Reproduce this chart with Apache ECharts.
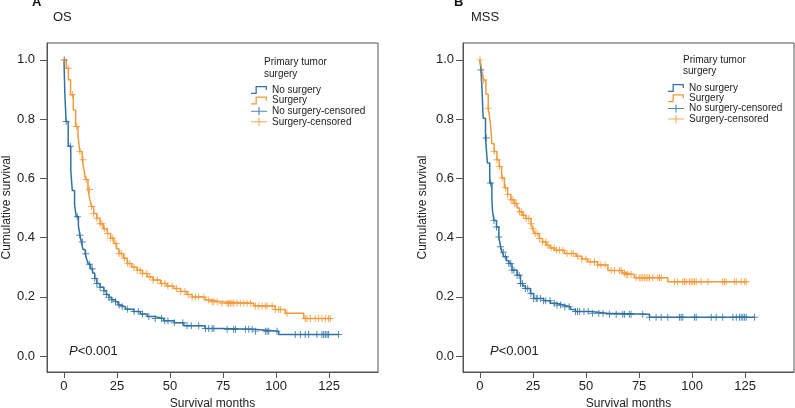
<!DOCTYPE html>
<html><head><meta charset="utf-8">
<script src="https://cdn.jsdelivr.net/npm/echarts@6/dist/echarts.min.js"></script>
<style>html,body{margin:0;padding:0;background:#fff}#c{width:795px;height:408px}</style>
</head><body><div id="c"></div>
<script>
// ---- data ----
const seriesNames = ['No surgery', 'Surgery', 'No surgery-censored', 'Surgery-censored'];
const xTicks = [0, 25, 50, 75, 100, 125];
const yTicks = [0, 0.2, 0.4, 0.6, 0.8, 1.0];

// Panel A: OS
const osNoTime = [0,0.4,1.0,2.0,3.2,3.9,5.0,5.8,6.8,7.5,8.2,8.9,10.0,10.8,11.5,12.5,13.5,14.5,15.5,17,18.8,20,21.2,22.5,24.3,25.5,26.7,29,32.9,36,39.2,43,47,52,56.5,66.5,74,89.5,101.2,129.4];
const osNoSurv = [1.0,0.888,0.792,0.708,0.629,0.559,0.51,0.47,0.44,0.408,0.385,0.36,0.345,0.325,0.31,0.295,0.28,0.262,0.245,0.232,0.22,0.208,0.198,0.19,0.183,0.172,0.166,0.158,0.15,0.142,0.133,0.127,0.119,0.112,0.102,0.093,0.09,0.084,0.073,0.073];
const osSurgTime = [0,1.1,2.1,3.1,4.4,5.5,6.6,7.5,8.6,9.4,10.2,11.3,12.2,13,14,15.5,17,18.5,20.4,22,23.5,24.8,25.9,28,29.8,32,34.5,37,39.2,42,45.5,48.5,51.8,55,58,60.4,66.5,69,73.9,89.4,99.6,104.3,113,125.5];
const osSurgSurv = [1.0,0.972,0.933,0.882,0.831,0.775,0.742,0.691,0.663,0.629,0.596,0.562,0.528,0.505,0.481,0.465,0.447,0.43,0.414,0.398,0.38,0.362,0.346,0.33,0.312,0.3,0.29,0.279,0.268,0.257,0.245,0.236,0.228,0.218,0.208,0.199,0.189,0.183,0.178,0.169,0.157,0.144,0.127,0.127];
const osNoCens = [0.3,1.0,3.0,6.3,7.5,8.7,10.3,12.0,13.3,14.5,15.5,17.0,18.8,20.0,21.2,22.5,24.3,26.0,27.5,30.0,33.0,35.0,37.0,40.0,43.0,46.0,47.5,49.0,52.0,56.0,58.0,60.0,63.5,66.7,68.2,69.8,70.6,76.9,80.0,80.8,85.5,87.1,88.7,90.2,94.9,95.7,96.5,100.4,109.0,111.4,113.7,115.3,119.2,121.6,122.4,123.2,124.0,124.7,129.4];
const osSurgCens = [0,2.0,4.0,6.0,7.5,9.0,10.5,12.0,13.0,14.0,15.5,17.0,18.0,19.0,20.5,22.0,23.0,24.5,26.0,27.0,28.5,30.0,31.0,33.0,34.5,36.0,37.0,39.0,40.5,42.0,44.0,46.0,47.5,49.0,51.0,53.0,55.0,57.0,58.5,60.4,62.0,63.5,65.9,68.2,69.8,70.6,72.2,74.5,76.9,77.6,78.4,79.2,80.0,81.6,83.1,84.7,86.3,87.9,90.2,91.8,93.4,94.9,95.7,98.1,99.6,101.2,102.0,105.1,113.7,114.5,116.1,118.4,120.0,121.6,123.2,124.7,125.5];

// Panel B: MSS
const mssNoTime = [0,0.5,1.0,1.5,2.6,3.5,4.6,5.6,5.9,6.6,7.8,8.9,9.7,10.5,11.3,12.5,13.6,15.1,17.5,19.1,20.2,21.4,23.8,25.3,30,33.2,36.3,39.5,42.6,45,52.1,60,79.9,129.4];
const mssNoSurv = [1.0,0.966,0.893,0.803,0.736,0.652,0.584,0.534,0.49,0.458,0.436,0.402,0.369,0.35,0.335,0.322,0.312,0.29,0.273,0.245,0.236,0.228,0.211,0.194,0.187,0.178,0.172,0.166,0.157,0.15,0.144,0.141,0.131,0.131];
const mssSurgTime = [0,0.8,1.7,2.8,3.9,4.8,5.3,5.6,6.7,8,9.1,10.2,11.5,13,14.6,16.2,17.5,18.6,20,21.7,24.1,24.9,25.7,28,29.5,31.2,33,35.1,39.8,45.3,48,50.8,55.5,60.3,67,68.5,72.8,88.5,125.5];
const mssSurgSurv = [1.0,0.966,0.932,0.884,0.837,0.792,0.755,0.717,0.691,0.663,0.64,0.601,0.568,0.545,0.528,0.515,0.5,0.487,0.475,0.464,0.447,0.43,0.414,0.397,0.385,0.374,0.365,0.357,0.346,0.337,0.328,0.318,0.307,0.289,0.28,0.275,0.264,0.251,0.251];
const mssNoCens = [0.5,3.0,5.0,6.6,7.8,8.9,9.7,11.0,12.0,13.6,14.5,15.1,16.0,17.5,18.5,19.1,20.0,21.4,22.5,24.0,25.3,26.5,27.0,28.5,30.0,31.0,33.0,35.0,36.3,38.0,40.0,42.0,45.0,46.0,47.0,49.0,51.0,53.0,56.0,58.0,61.0,64.2,67.3,68.1,70.4,71.2,76.7,79.9,83.0,85.4,88.5,94.0,94.8,95.6,101.1,101.9,109.0,111.3,114.4,119.2,120.8,122.3,123.1,123.9,124.7,125.5,129.4];
const mssSurgCens = [0,1.7,3.9,6.7,8.0,9.1,10.5,12.0,13.0,14.6,15.5,16.2,17.0,18.6,19.5,20.5,21.7,23.0,24.1,25.0,26.0,27.0,28.0,29.5,31.0,32.0,33.5,35.0,36.0,37.5,39.0,41.0,43.0,44.0,46.0,48.0,50.0,52.0,54.0,55.5,57.0,59.0,61.8,63.4,65.7,66.5,68.1,68.9,69.6,71.2,73.6,75.1,75.9,76.7,77.5,78.3,79.1,79.9,81.4,83.8,84.6,85.4,91.7,93.2,95.6,96.4,97.2,98.7,99.5,100.3,101.1,101.9,104.2,107.4,114.4,115.2,116.0,119.9,120.8,123.1,124.7,125.5];

// ---- styling ----
const BLUE = '#3073a3';
const ORANGE = '#f39a3b';
const TXT = '#222';
const FONT = '"Liberation Sans", Arial, sans-serif';
const PLUS = 'path://M8.6,0H11.4V8.6H20V11.4H11.4V20H8.6V11.4H0V8.6H8.6Z';
const STEP_ICON = 'path://M0,8.25H5.25V0.25H18.75V5H17.25V1.75H6.75V9.75H0Z';
const CROSS_ICON = 'path://M0,4.4H9.3V0H10.7V4.4H20V5.6H10.7V10H9.3V5.6H0Z';

function pairs(t, s) { return t.map((v, i) => [v, s[i]]); }
function survAt(t, s, x) { let v = s[0]; for (let i = 0; i < t.length; i++) { if (t[i] <= x) v = s[i]; } return v; }
function cens(times, t, s) { return times.map(x => [x, survAt(t, s, x)]); }

const chart = echarts.init(document.getElementById('c'), null, { renderer: 'canvas' });

function xAxis(gi) {
  return {
    type: 'value', gridIndex: gi, min: -8, max: 148,
    name: 'Survival months', nameLocation: 'middle', nameGap: 24,
    nameTextStyle: { fontFamily: FONT, fontSize: 12, color: TXT },
    axisLine: { show: true, onZero: false, lineStyle: { color: '#555', width: 1 } },
    axisTick: { show: true, length: 6, lineStyle: { color: '#555' }, customValues: xTicks },
    axisLabel: { fontFamily: FONT, fontSize: 13, color: TXT, margin: 8, customValues: xTicks },
    splitLine: { show: false }
  };
}
function yAxis(gi, margin) {
  return {
    type: 'value', gridIndex: gi, min: -0.054, max: 1.057,
    name: 'Cumulative survival', nameLocation: 'middle', nameGap: 34,
    nameTextStyle: { fontFamily: FONT, fontSize: 12, color: TXT },
    axisLine: { show: true, onZero: false, lineStyle: { color: '#555', width: 1 } },
    axisTick: { show: true, length: 7, lineStyle: { color: '#555' }, customValues: yTicks },
    axisLabel: { fontFamily: FONT, fontSize: 13, color: TXT, margin: margin, customValues: yTicks,
      formatter: v => v.toFixed(1) },
    splitLine: { show: false }
  };
}
function stepSeries(name, gi, data, color) {
  return { name, type: 'line', step: 'end', xAxisIndex: gi, yAxisIndex: gi, data,
    showSymbol: false, symbol: 'none', lineStyle: { color, width: 1.5 }, itemStyle: { color }, z: 2 };
}
function censSeries(name, gi, data, color) {
  return { name, type: 'scatter', xAxisIndex: gi, yAxisIndex: gi, data, symbol: PLUS, symbolSize: 7,
    itemStyle: { color, opacity: 0.85 }, z: 3 };
}
function legend(left, top, gap) {
  return {
    left, top, orient: 'vertical', padding: 0, itemWidth: 16, itemHeight: 8, itemGap: gap,
    textStyle: { fontFamily: FONT, fontSize: 10, color: TXT, lineHeight: 10, padding: [0, 0, 0, 0] },
    itemStyle: { borderWidth: 0 },
    data: [
      { name: seriesNames[0], icon: STEP_ICON },
      { name: seriesNames[1], icon: STEP_ICON },
      { name: seriesNames[2], icon: CROSS_ICON },
      { name: seriesNames[3], icon: CROSS_ICON }
    ]
  };
}

const option = {
  animation: false,
  backgroundColor: '#fff',
  title: [
    { text: 'A', left: 32, top: -4, padding: 0, textStyle: { fontFamily: FONT, fontSize: 13, fontWeight: 'bold', color: '#111' } },
    { text: 'OS', left: 53, top: 11, padding: 0, textStyle: { fontFamily: FONT, fontSize: 13, fontWeight: 'normal', color: TXT } },
    { text: 'B', left: 454, top: -4, padding: 0, textStyle: { fontFamily: FONT, fontSize: 13, fontWeight: 'bold', color: '#111' } },
    { text: 'MSS', left: 471, top: 11, padding: 0, textStyle: { fontFamily: FONT, fontSize: 13, fontWeight: 'normal', color: TXT } },
    { text: 'Primary tumor\nsurgery', left: 264, top: 56, padding: 0, textStyle: { fontFamily: FONT, fontSize: 10, fontWeight: 'normal', color: TXT, lineHeight: 12 } },
    { text: 'Primary tumor\nsurgery', left: 683, top: 55, padding: 0, textStyle: { fontFamily: FONT, fontSize: 10, fontWeight: 'normal', color: TXT, lineHeight: 11 } }
  ],
  legend: [legend(251, 85, 0.6), legend(668, 83, 0.3)],
  grid: [
    { left: 47, right: 417, top: 43, bottom: 36, show: true, borderColor: '#555', borderWidth: 1, backgroundColor: 'transparent', outerBoundsMode: 'none', containLabel: false },
    { left: 463, right: 1, top: 43, bottom: 36, show: true, borderColor: '#555', borderWidth: 1, backgroundColor: 'transparent', outerBoundsMode: 'none', containLabel: false }
  ],
  xAxis: [xAxis(0), xAxis(1)],
  yAxis: [yAxis(0, 12), yAxis(1, 9)],
  series: [
    stepSeries(seriesNames[0], 0, pairs(osNoTime, osNoSurv), BLUE),
    stepSeries(seriesNames[1], 0, pairs(osSurgTime, osSurgSurv), ORANGE),
    censSeries(seriesNames[2], 0, cens(osNoCens, osNoTime, osNoSurv), BLUE),
    censSeries(seriesNames[3], 0, cens(osSurgCens, osSurgTime, osSurgSurv), ORANGE),
    stepSeries(seriesNames[0], 1, pairs(mssNoTime, mssNoSurv), BLUE),
    stepSeries(seriesNames[1], 1, pairs(mssSurgTime, mssSurgSurv), ORANGE),
    censSeries(seriesNames[2], 1, cens(mssNoCens, mssNoTime, mssNoSurv), BLUE),
    censSeries(seriesNames[3], 1, cens(mssSurgCens, mssSurgTime, mssSurgSurv), ORANGE)
  ],
  graphic: [
    { type: 'text', left: 69, top: 345, style: { text: '{i|P}<0.001', fontFamily: FONT, fontSize: 13, fill: TXT,
      rich: { i: { fontStyle: 'italic', fontFamily: FONT, fontSize: 13, fill: TXT } } } },
    { type: 'text', left: 490, top: 345, style: { text: '{i|P}<0.001', fontFamily: FONT, fontSize: 13, fill: TXT,
      rich: { i: { fontStyle: 'italic', fontFamily: FONT, fontSize: 13, fill: TXT } } } }
  ]
};
chart.setOption(option);
</script>
</body></html>
